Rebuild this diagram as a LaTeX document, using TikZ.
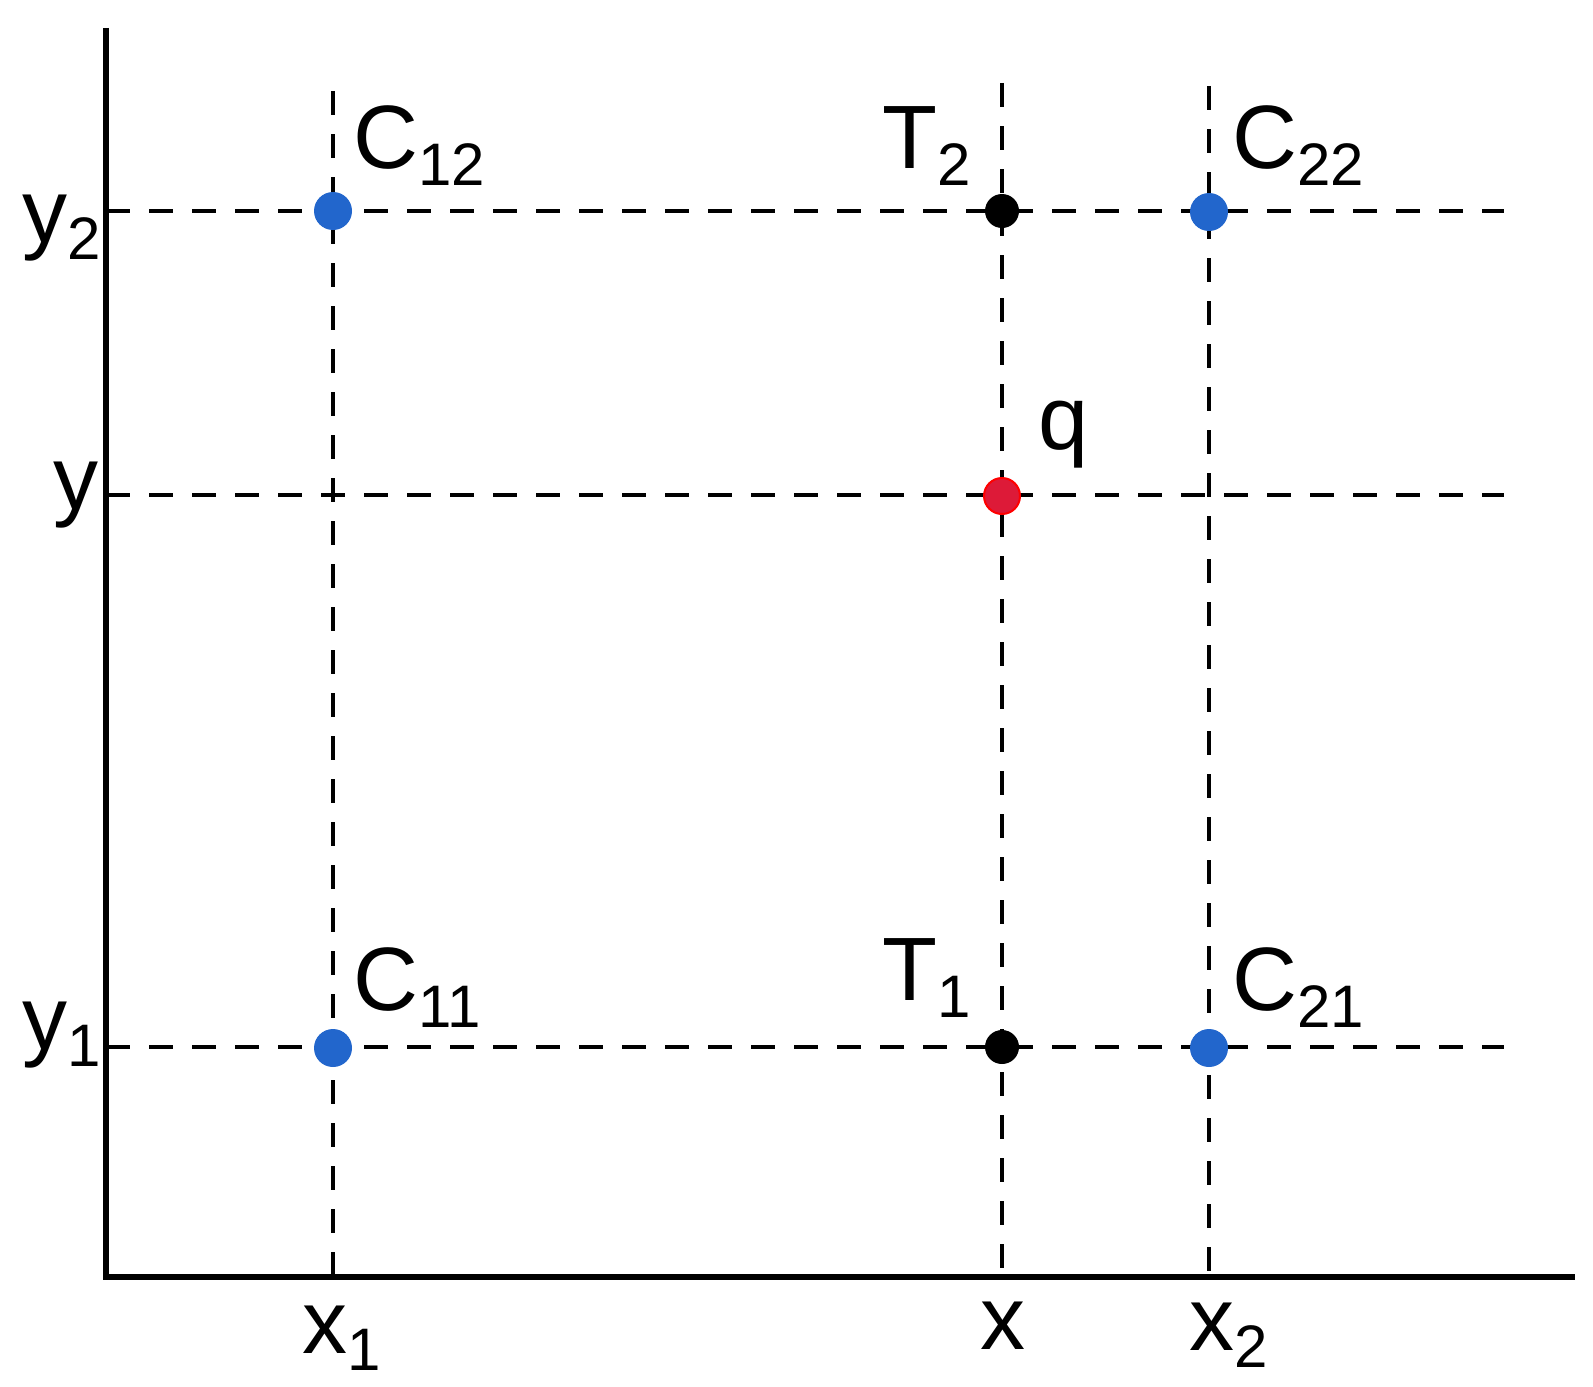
\documentclass[tikz,border=0pt]{standalone}
\usepackage{fontspec}
\setmainfont{Liberation Sans}
\definecolor{ptblue}{RGB}{34,102,204}
\definecolor{ptred}{RGB}{221,26,56}
\newcommand{\idx}[1]{\raisebox{-0.19em}{\fontsize{30}{30}\selectfont #1}}
\tikzset{
  axis line/.style={line width=3pt},
  grid line/.style={line width=2.4pt,dash pattern=on 12pt off 9.5pt},
  corner pt/.style={circle,fill=ptblue,inner sep=0pt,minimum size=19pt},
  interp pt/.style={circle,fill=black,inner sep=0pt,minimum size=17pt},
  query pt/.style={circle,fill=ptred,draw=red,line width=1pt,inner sep=0pt,minimum size=18pt},
  lbl/.style={anchor=base west,inner sep=0pt,font=\fontsize{45}{54}\selectfont}
}
\begin{document}
\begin{tikzpicture}[x=0.5pt,y=-0.5pt]
\useasboundingbox (0,0) rectangle (1593,1386);
% axes
\coordinate (O) at (106,1277);
\coordinate (ytop) at (106,28);
\coordinate (xend) at (1575,1277);
% grid lines
\foreach \nm/\px/\top in {x1/333/91, xq/1002/83, x2/1209/86} {
  \coordinate (\nm top) at (\px,\top);
  \coordinate (\nm bot) at (\px,1277);
  \draw[grid line] (\nm top) -- (\nm bot);
}
\foreach \nm/\py in {y1/1047, yq/495, y2/211} {
  \coordinate (\nm left) at (106,\py);
  \coordinate (\nm right) at (1504,\py);
  \draw[grid line] (\nm left) -- (\nm right);
}
\draw[axis line] (ytop) -- (O) -- (xend);
% points
\node[corner pt] (C12) at (333,211) {};
\node[corner pt] (C22) at (1209,212) {};
\node[corner pt] (C11) at (333,1048) {};
\node[corner pt] (C21) at (1209,1048) {};
\node[interp pt] (T2) at (1002,211) {};
\node[interp pt] (T1) at (1002,1047) {};
\node[query pt] (q) at (1002,496) {};
% labels
\node[lbl] (C12 lbl) at (353,168) {C\idx{12}};
\node[lbl] (T2 lbl) at (882,168) {T\idx{2}};
\node[lbl] (C22 lbl) at (1232,168) {C\idx{22}};
\node[lbl] (q lbl) at (1038,449) {q};
\node[lbl] (C11 lbl) at (353,1010) {C\idx{11}};
\node[lbl] (T1 lbl) at (882,1000) {T\idx{1}};
\node[lbl] (C21 lbl) at (1232,1010) {C\idx{21}};
\node[lbl] (y2 lbl) at (22,242) {y\idx{2}};
\node[lbl] (yq lbl) at (53,509) {y};
\node[lbl] (y1 lbl) at (22,1049) {y\idx{1}};
\node[lbl] (x1 lbl) at (302,1353) {x\idx{1}};
\node[lbl] (xq lbl) at (980,1349) {x};
\node[lbl] (x2 lbl) at (1189,1350) {x\idx{2}};
\end{tikzpicture}
\end{document}
